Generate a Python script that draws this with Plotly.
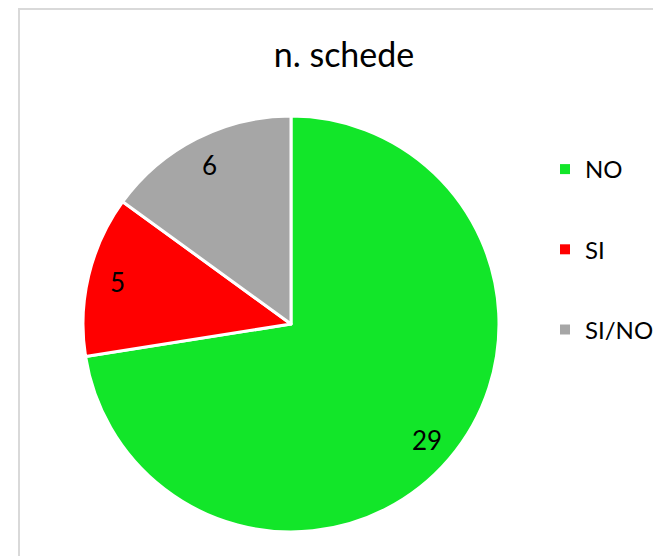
import math
import plotly.graph_objects as go

# Survey answers: number of forms per response
categories = ["NO", "SI", "SI/NO"]
counts = [29, 5, 6]
colors = ["#12E629", "#FF0000", "#A6A6A6"]
title_text = "n. schede"

W, H = 653, 556
FONT = "Lato, Carlito, Calibri, sans-serif"

# pie geometry in pixels (top-left origin)
cx, cy, r = 291, 324, 208
label_frac = 0.86

fig = go.Figure()
fig.add_trace(go.Pie(
    labels=categories, values=counts, sort=False,
    direction="clockwise", rotation=0,
    marker=dict(colors=colors, line=dict(color="white", width=3)),
    textinfo="none", hoverinfo="label+value+percent",
    showlegend=False,
    domain=dict(x=[(cx - r) / W, (cx + r) / W],
                y=[1 - (cy + r) / H, 1 - (cy - r) / H]),
))

# value labels placed along each slice's bisector
total = sum(counts)
start = 0.0
for cat, val in zip(categories, counts):
    mid = (start + val / 2) / total * 2 * math.pi
    start += val
    px = cx + label_frac * r * math.sin(mid)
    py = cy - label_frac * r * math.cos(mid)
    fig.add_annotation(x=px / W, y=1 - py / H, xref="paper", yref="paper",
                       text=str(val), showarrow=False,
                       font=dict(family=FONT, size=26, color="black"),
                       xanchor="center", yanchor="middle")

# legend entries with square swatches
for cat, col in zip(categories, colors):
    fig.add_trace(go.Scatter(x=[None], y=[None], mode="markers", name=cat,
                             legendgroup=cat,
                             marker=dict(symbol="square", size=10, color=col)))

fig.update_layout(
    width=W, height=H,
    margin=dict(l=0, r=0, t=0, b=0, autoexpand=False),
    paper_bgcolor="white", plot_bgcolor="white",
    font=dict(family=FONT, color="black"),
    title=dict(text=title_text, x=344 / W, y=1 - 55 / H, xanchor="center",
               yanchor="middle", font=dict(family=FONT, size=34, color="black")),
    xaxis=dict(visible=False), yaxis=dict(visible=False),
    legend=dict(x=545 / W, y=1 - 147 / H, xanchor="left", yanchor="top",
                font=dict(family=FONT, size=24, color="black"),
                tracegroupgap=46, bgcolor="rgba(0,0,0,0)"),
    shapes=[dict(type="rect", xref="paper", yref="paper",
                 x0=19 / W, x1=1.2, y0=-0.2, y1=1 - 9 / H,
                 line=dict(color="#D9D9D9", width=2), layer="below")],
)

fig.write_html("out.html")
